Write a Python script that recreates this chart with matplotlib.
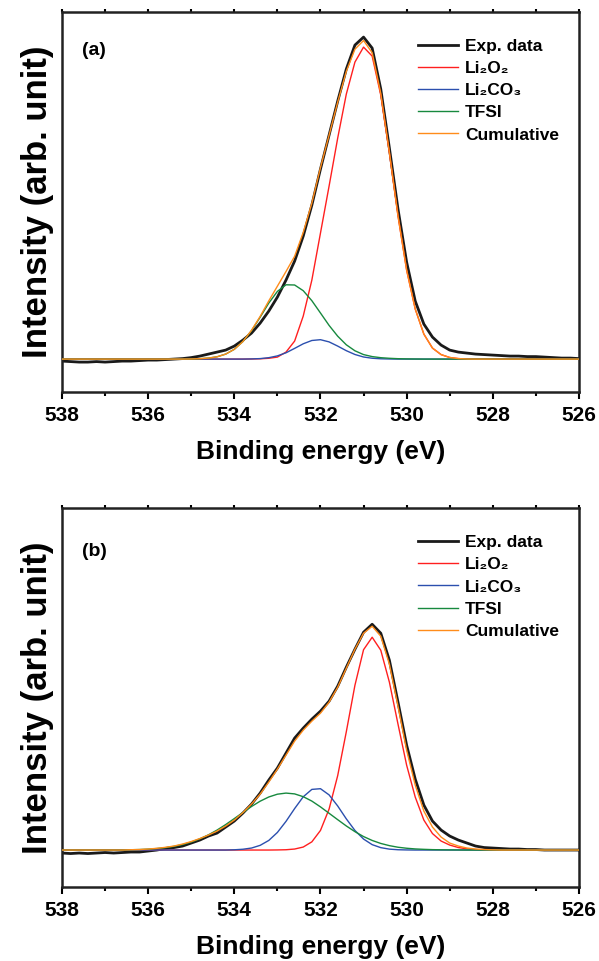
import numpy as np
import matplotlib
matplotlib.use('Agg')
from matplotlib import pyplot as plt
from matplotlib.ticker import MultipleLocator

plt.rcParams['font.family'] = ['Liberation Sans', 'DejaVu Sans']
plt.rcParams['font.weight'] = 'bold'

# binding energy grid (eV), 538 -> 526 in 0.2 eV steps
energy = [538.0, 537.8, 537.6, 537.4, 537.2, 537.0, 536.8, 536.6, 536.4, 536.2,
          536.0, 535.8, 535.6, 535.4, 535.2, 535.0, 534.8, 534.6, 534.4, 534.2,
          534.0, 533.8, 533.6, 533.4, 533.2, 533.0, 532.8, 532.6, 532.4, 532.2,
          532.0, 531.8, 531.6, 531.4, 531.2, 531.0, 530.8, 530.6, 530.4, 530.2,
          530.0, 529.8, 529.6, 529.4, 529.2, 529.0, 528.8, 528.6, 528.4, 528.2,
          528.0, 527.8, 527.6, 527.4, 527.2, 527.0, 526.8, 526.6, 526.4, 526.2,
          526.0]

# ---- panel (a) ----
exp_a = [-2, -2.5, -3, -3, -2.5, -3, -2.5, -2, -2, -1.5,
         -1, -1, -0.5, 0, 0.5, 1.5, 3, 5, 7, 9,
         13, 19, 26, 36, 48, 62, 79, 98, 123, 154,
         190, 224, 258, 290, 314, 322, 311, 270, 211, 150,
         97, 58, 35, 22, 14, 9, 7, 6, 5, 4.5,
         4, 3.5, 3, 3, 2.5, 2.5, 2, 1.5, 1, 1,
         0.5]
li2o2_a = [0, 0, 0, 0, 0, 0, 0, 0, 0, 0,
           0, 0, 0, 0, 0, 0, 0, 0, 0, 0,
           0, 0, 0.1, 0.3, 0.8, 2, 7, 18, 43, 79,
           126, 173, 221, 265, 297, 312, 303, 264, 206, 143,
           89, 50, 25, 11, 4.5, 1.6, 0.5, 0.1, 0, 0,
           0, 0, 0, 0, 0, 0, 0, 0, 0, 0,
           0]
li2co3_a = [0, 0, 0, 0, 0, 0, 0, 0, 0, 0,
            0, 0, 0, 0, 0, 0, 0, 0, 0, 0,
            0, 0, 0.16, 0.5, 1.4, 3.2, 6.3, 10.7, 15.3, 18.6,
            19.4, 17.2, 13.0, 8.4, 4.6, 2.1, 0.85, 0.3, 0.1, 0,
            0, 0, 0, 0, 0, 0, 0, 0, 0, 0,
            0, 0, 0, 0, 0, 0, 0, 0, 0, 0,
            0]
tfsi_a = [0, 0, 0, 0, 0, 0, 0, 0, 0, 0,
          0, 0, 0, 0, 0, 0.1, 0.4, 1.0, 2.3, 5.0,
          9.8, 17.6, 28.5, 41.9, 56.0, 67.7, 74.3, 74.1, 68.4, 58.4,
          46.1, 33.7, 22.9, 14.3, 8.3, 4.5, 2.5, 1.4, 0.8, 0.4,
          0.2, 0.1, 0, 0, 0, 0, 0, 0, 0, 0,
          0, 0, 0, 0, 0, 0, 0, 0, 0, 0,
          0]
cum_a = [0, 0, 0, 0, 0, 0, 0, 0, 0, 0,
         0, 0, 0, 0, 0, 0.1, 0.4, 1.0, 2.3, 5.0,
         9.8, 17.6, 28.8, 42.7, 58.2, 72.9, 87.6, 102.8, 126.7, 156.0,
         191.5, 223.9, 256.9, 287.7, 309.9, 318.6, 306.4, 265.7, 206.9, 143.4,
         89.2, 50.1, 25, 11, 4.5, 1.6, 0.5, 0.1, 0, 0,
         0, 0, 0, 0, 0, 0, 0, 0, 0, 0,
         0]

# ---- panel (b) ----
exp_b = [-3, -3.5, -3, -3.5, -3, -2.5, -3, -2.5, -2, -2,
         -1, 0, 1.5, 2.5, 4, 7, 10, 14, 17, 23,
         29, 37, 46, 57, 70, 82, 97, 112, 122, 131,
         139, 149, 164, 183, 201, 218, 226, 217, 190, 148,
         105, 71, 45, 29, 20, 14, 10, 7, 4, 2.5,
         2, 1.5, 1, 1, 0.5, 0.5, 0, 0, 0, 0,
         0]
li2o2_b = [0, 0, 0, 0, 0, 0, 0, 0, 0, 0,
           0, 0, 0, 0, 0, 0, 0, 0, 0, 0,
           0, 0, 0, 0, 0, 0.1, 0.3, 1.0, 3.0, 8.2,
           19.6, 41, 74.5, 118.4, 164.9, 200.5, 213, 200, 168, 126,
           85, 53, 30, 16.5, 9, 5, 2.5, 1.2, 0.5, 0.2,
           0, 0, 0, 0, 0, 0, 0, 0, 0, 0,
           0]
li2co3_b = [0, 0, 0, 0, 0, 0, 0, 0, 0, 0,
            0, 0, 0, 0, 0, 0, 0, 0, 0, 0,
            0.25, 0.8, 2.0, 4.7, 9.6, 17.6, 28.7, 41.5, 53.3, 60.7,
            61.4, 55.2, 44.1, 31.2, 19.6, 11.0, 5.4, 2.4, 0.9, 0.3,
            0.1, 0, 0, 0, 0, 0, 0, 0, 0, 0,
            0, 0, 0, 0, 0, 0, 0, 0, 0, 0,
            0]
tfsi_b = [0, 0, 0, 0, 0, 0, 0, 0, 0.3, 0.5,
          0.9, 1.5, 2.4, 3.7, 5.5, 8.0, 11.2, 15.2, 20.0, 25.5,
          31.5, 37.6, 43.6, 48.9, 53.1, 55.9, 57, 56.2, 53.4, 49.0,
          43.2, 36.8, 30.4, 24.1, 18.4, 13.5, 9.6, 6.6, 4.4, 2.8,
          1.8, 1.1, 0.7, 0.4, 0.25, 0.15, 0.1, 0, 0, 0,
          0, 0, 0, 0, 0, 0, 0, 0, 0, 0,
          0]
cum_b = [0, 0, 0, 0, 0, 0, 0, 0, 0.3, 0.5,
         1, 1.7, 2.7, 4, 6, 8.5, 11.5, 15, 19, 24,
         30, 37.5, 46, 56, 68, 81, 95, 109, 120, 129,
         137, 148, 163, 182, 201, 217, 224, 214, 186, 144,
         100, 65, 39, 23, 13, 7, 4, 2, 1, 0.5,
         0.2, 0, 0, 0, 0, 0, 0, 0, 0, 0,
         0]

labels = ['Exp. data', 'Li₂O₂', 'Li₂CO₃', 'TFSI', 'Cumulative']
colors = ['#1a1a1a', '#ff1f1f', '#2b4fae', '#17893e', '#ff8c1a']

fig = plt.figure(figsize=(5.99, 9.61), dpi=100)
ax_a = fig.add_axes([0.1035, 0.592, 0.863, 0.3954])
ax_b = fig.add_axes([0.1035, 0.077, 0.863, 0.394])

panels = [
    (ax_a, '(a)', 0.90, [exp_a, li2o2_a, li2co3_a, tfsi_a, cum_a], (-33, 347)),
    (ax_b, '(b)', 0.887, [exp_b, li2o2_b, li2co3_b, tfsi_b, cum_b], (-37, 342)),
]

for ax, tag, tag_y, series, ylim in panels:
    ax.plot(energy, series[0], color=colors[0], lw=2.0, label=labels[0], zorder=2)
    for k in [1, 2, 3, 4]:
        ax.plot(energy, series[k], color=colors[k], lw=1.0, label=labels[k], zorder=3)
    ax.set_xlim(538, 526)
    ax.set_ylim(*ylim)
    ax.xaxis.set_major_locator(MultipleLocator(2))
    ax.xaxis.set_minor_locator(MultipleLocator(1))
    ax.tick_params(axis='x', which='major', direction='out', length=5, width=1.5,
                   labelsize=15, pad=5, top=True)
    ax.tick_params(axis='x', which='minor', direction='out', length=3, width=1.5, top=True)
    ax.tick_params(axis='x', which='both', labeltop=False)
    ax.tick_params(axis='y', left=False, labelleft=False)
    for tk in ax.xaxis.get_major_ticks() + ax.xaxis.get_minor_ticks():
        tk.tick2line.set_markersize(2)
    for sp in ax.spines.values():
        sp.set_linewidth(1.8)
        sp.set_color('#222222')
    ax.set_xlabel('Binding energy (eV)', fontsize=19, fontweight='bold', labelpad=11)
    ax.set_ylabel('Intensity (arb. unit)', fontsize=25, fontweight='bold', labelpad=6)
    ax.text(0.038, tag_y, tag, transform=ax.transAxes, fontsize=14, fontweight='bold',
            va='center', ha='left')
    ax.legend(loc='upper left', bbox_to_anchor=(0.672, 0.952), frameon=False,
              fontsize=12.5, handlelength=2.3, handletextpad=0.4, labelspacing=0.4,
              borderpad=0)

fig.savefig('out.png', dpi=100)
